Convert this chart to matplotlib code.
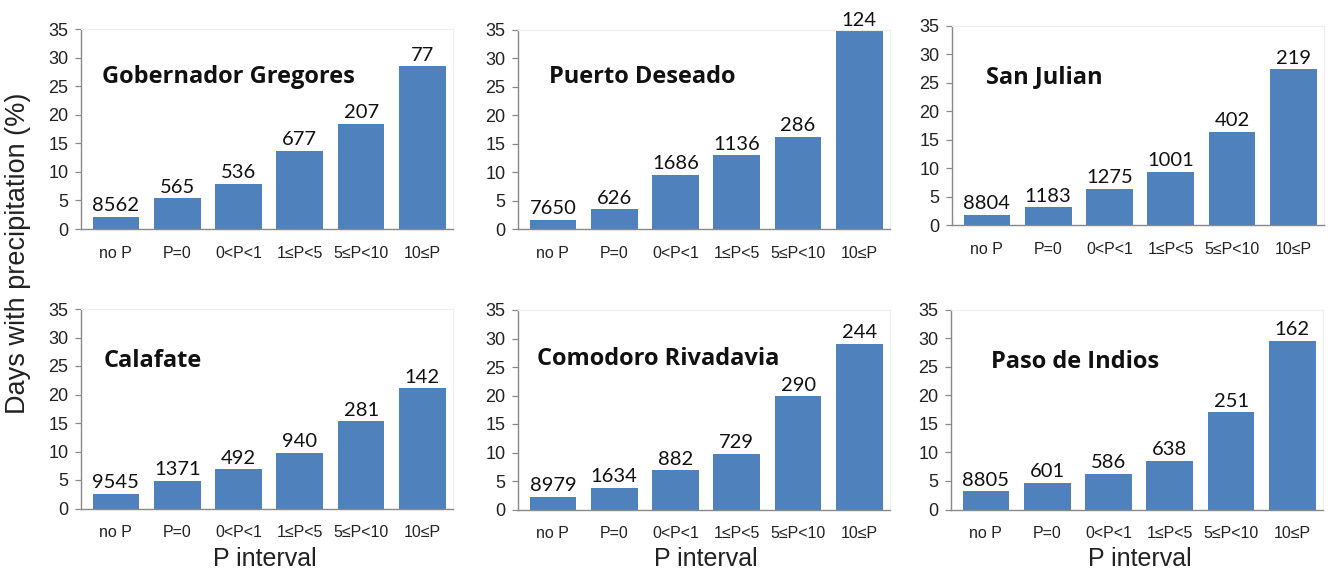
import matplotlib
matplotlib.use("Agg")
import matplotlib.pyplot as plt
import numpy as np

categories = ["no P", "P=0", "0<P<1", "1≤P<5", "5≤P<10", "10≤P"]
stations = ["Gobernador Gregores", "Puerto Deseado", "San Julian",
            "Calafate", "Comodoro Rivadavia", "Paso de Indios"]

gobernador_gregores = [2.1, 5.4, 7.9, 13.7, 18.4, 28.5]
puerto_deseado = [1.6, 3.5, 9.5, 13.0, 16.2, 34.8]
san_julian = [1.8, 3.1, 6.4, 9.4, 16.4, 27.4]
calafate = [2.6, 4.9, 6.9, 9.8, 15.3, 21.1]
comodoro_rivadavia = [2.2, 3.8, 6.9, 9.8, 19.9, 29.1]
paso_de_indios = [3.2, 4.7, 6.3, 8.5, 17.0, 29.5]

counts_gg = [8562, 565, 536, 677, 207, 77]
counts_pd = [7650, 626, 1686, 1136, 286, 124]
counts_sj = [8804, 1183, 1275, 1001, 402, 219]
counts_ca = [9545, 1371, 492, 940, 281, 142]
counts_cr = [8979, 1634, 882, 729, 290, 244]
counts_pi = [8805, 601, 586, 638, 251, 162]

values = [gobernador_gregores, puerto_deseado, san_julian,
          calafate, comodoro_rivadavia, paso_de_indios]
counts = [counts_gg, counts_pd, counts_sj, counts_ca, counts_cr, counts_pi]

yticks = [0, 5, 10, 15, 20, 25, 30, 35]
ylabel = "Days with precipitation (%)"
xlabel = "P interval"

W, H = 1328, 570
fig = plt.figure(figsize=(W / 100, H / 100), dpi=100)

# pixel geometry: (left, y of 0, y of 35)
geom = [(81, 229, 29), (518, 229, 30), (952, 225, 26),
        (81, 508.5, 309), (518, 509.5, 310), (951, 509.5, 309.5)]
title_pos = [(0.057, 0.73), (0.084, 0.732), (0.092, 0.711),
             (0.062, 0.709), (0.052, 0.724), (0.107, 0.71)]
axw = 372

bar_color = "#4F81BD"
tick_font = "Liberation Sans"

for i in range(6):
    left, y0, y35 = geom[i]
    ax = fig.add_axes([left / W, (H - y0) / H, axw / W, (y0 - y35) / H])
    x = np.arange(len(categories))
    ax.bar(x, values[i], width=0.76, color=bar_color, zorder=2)
    for xi, v, c in zip(x, values[i], counts[i]):
        ax.annotate(str(c), (xi, v), xytext=(0, 4), textcoords="offset points",
                    ha="center", va="baseline", fontsize=14.5, family="Lato",
                    color="#111111")
    ax.set_xlim(-0.57, 5.5)
    ax.set_ylim(0, 35)
    ax.set_yticks(yticks)
    ax.set_yticklabels([str(t) for t in yticks], fontsize=13, family=tick_font,
                       color="#222222")
    ax.set_xticks(x)
    ax.set_xticklabels(categories, fontsize=11.5, family=tick_font, color="#222222")
    ax.tick_params(axis="x", length=0, pad=12)
    ax.tick_params(axis="y", length=4, width=0.9, color="#898989", pad=5)
    for s in ["left", "bottom"]:
        ax.spines[s].set_color("#898989")
        ax.spines[s].set_linewidth(1.0)
    for s in ["top", "right"]:
        ax.spines[s].set_color("#eeeeee")
        ax.spines[s].set_linewidth(0.8)
    tx, ty = title_pos[i]
    ax.text(tx, ty, stations[i], transform=ax.transAxes, fontsize=17,
            fontweight="bold", family="Open Sans", ha="left", va="baseline",
            color="#111111")

fig.text(18 / W, (H - 253) / H, ylabel, rotation=90, ha="center", va="center",
         fontsize=19.5, family=tick_font, color="#222222")
for cx in [265, 706, 1140]:
    fig.text(cx / W, 4 / H, xlabel, ha="center", va="baseline", fontsize=18,
             family=tick_font, color="#222222")

fig.savefig("out.png", dpi=100, facecolor="white")
